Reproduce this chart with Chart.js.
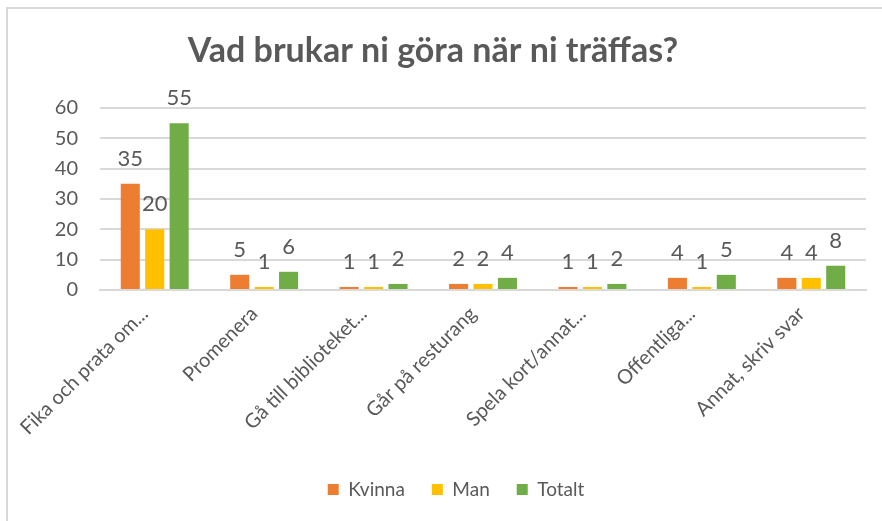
<!DOCTYPE html>
<html lang="sv">
<head>
<meta charset="UTF-8">
<title>Vad brukar ni göra när ni träffas?</title>
<script src="https://cdn.jsdelivr.net/npm/chart.js"></script>
<style>
  html, body { margin: 0; padding: 0; background: #fff; }
  .wrap { position: relative; width: 882px; height: 521px; overflow: hidden; }
  .frame { position: absolute; left: 6px; top: 7px; right: -10px; bottom: -10px;
           border-top: 2px solid #d9d9d9; border-left: 2px solid #d9d9d9; pointer-events: none; }
  canvas { position: absolute; left: 0; top: 0; }
</style>
</head>
<body>
<div class="wrap">
  <canvas id="chart" width="882" height="521"></canvas>
  <div class="frame"></div>
</div>
<script>
const categories = ['Fika och prata om...', 'Promenera', 'Gå till biblioteket...', 'Går på resturang',
                    'Spela kort/annat...', 'Offentliga...', 'Annat, skriv svar'];
const kvinna = [35, 5, 1, 2, 1, 4, 4];
const man = [20, 1, 1, 2, 1, 1, 4];
const totalt = [55, 6, 2, 4, 2, 5, 8];
const yTicks = [0, 10, 20, 30, 40, 50, 60];

const textColor = '#595959';
const fontFamily = 'Lato, Calibri, sans-serif';

// draws the value above every bar, like Excel's data labels
const barLabels = {
  id: 'barLabels',
  afterDatasetsDraw(chart) {
    const ctx = chart.ctx;
    ctx.save();
    ctx.fillStyle = textColor;
    ctx.font = '22px ' + fontFamily;
    ctx.textAlign = 'center';
    ctx.textBaseline = 'bottom';
    chart.data.datasets.forEach((ds, i) => {
      chart.getDatasetMeta(i).data.forEach((bar, j) => {
        ctx.fillText(String(ds.data[j]), bar.x, bar.y - 14);
      });
    });
    ctx.restore();
  }
};

// Excel puts the legend a bit right of the canvas centre
const legendShift = {
  id: 'legendShift',
  afterLayout(chart) { chart.legend.left += 46; }
};

new Chart(document.getElementById('chart'), {
  type: 'bar',
  data: {
    labels: categories,
    datasets: [
      { label: 'Kvinna', data: kvinna, backgroundColor: '#ED7D31' },
      { label: 'Man', data: man, backgroundColor: '#FFC000' },
      { label: 'Totalt', data: totalt, backgroundColor: '#70AD47' }
    ]
  },
  options: {
    responsive: false,
    animation: false,
    devicePixelRatio: 1,
    categoryPercentage: 0.67,
    barPercentage: 0.78,
    layout: { padding: { left: 0, right: 16, top: 0, bottom: 19 } },
    plugins: {
      title: {
        display: true,
        text: 'Vad brukar ni göra när ni träffas?',
        color: textColor,
        font: { family: fontFamily, size: 34, weight: 'bold' },
        padding: { top: 31, bottom: 36.2 }
      },
      legend: {
        position: 'bottom',
        maxHeight: 49,
        labels: {
          color: textColor,
          font: { family: fontFamily, size: 19 },
          boxWidth: 11,
          boxHeight: 11,
          padding: 27
        }
      },
      tooltip: { enabled: false }
    },
    scales: {
      x: {
        grid: { display: false, drawTicks: false },
        border: { color: '#d9d9d9', width: 2 },
        ticks: {
          color: textColor,
          font: { family: fontFamily, size: 20 },
          maxRotation: 45,
          minRotation: 45,
          padding: 12,
          labelOffset: -10,
          autoSkip: false
        },
        afterFit(scale) { scale.height = 163; }
      },
      y: {
        min: 0,
        max: 60,
        afterBuildTicks(scale) { scale.ticks = yTicks.map(v => ({ value: v })); },
        grid: { color: '#d9d9d9', lineWidth: 2, drawTicks: false },
        border: { display: false },
        ticks: {
          color: textColor,
          font: { family: fontFamily, size: 20 },
          padding: 22
        },
        afterFit(scale) { scale.width = 100; }
      }
    }
  },
  plugins: [barLabels, legendShift]
});
</script>
</body>
</html>
